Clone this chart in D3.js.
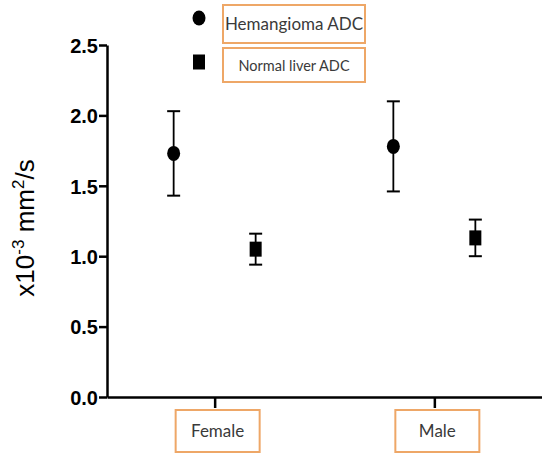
<!DOCTYPE html>
<html>
<head>
<meta charset="utf-8">
<script src="https://cdn.jsdelivr.net/npm/d3@7"></script>
<style>
  body { margin: 0; background: #fff; }
  svg { display: block; }
</style>
</head>
<body>
<svg id="chart"></svg>
<script>
// values (x10^-3 mm2/s), mean and error half-width
var groups = ['Female', 'Male'];
var seriesNames = ['Hemangioma ADC', 'Normal liver ADC'];
var hemangiomaMean = [1.73, 1.78];
var hemangiomaErr = [0.30, 0.32];
var liverMean = [1.05, 1.13];
var liverErr = [0.11, 0.13];
var yTicks = [0, 0.5, 1.0, 1.5, 2.0, 2.5];

var width = 542;
var height = 454;
var orange = '#eea767';

var svg = d3.select('#chart')
  .attr('width', width)
  .attr('height', height);

var y = d3.scaleLinear().domain([0, 2.5]).range([397, 45]);
var x = d3.scalePoint().domain(groups).range([107, 542]).padding(0.49);
var offset = 41;

// y axis
var yAxis = svg.append('g')
  .attr('transform', 'translate(107,0)')
  .call(d3.axisLeft(y).tickValues(yTicks).tickFormat(d3.format('.1f')).tickSize(8).tickSizeOuter(0));
yAxis.select('.domain').attr('stroke', '#000').attr('stroke-width', 2.5);
yAxis.selectAll('.tick line').attr('stroke', '#000').attr('stroke-width', 2.5);
yAxis.selectAll('.tick text')
  .attr('x', -9)
  .attr('dy', '0.36em')
  .style('font-family', '"Liberation Sans", Arial, sans-serif')
  .style('font-weight', 'bold')
  .style('font-size', '20px')
  .attr('fill', '#000');

// x axis
var xAxis = svg.append('g')
  .attr('transform', 'translate(0,397)')
  .call(d3.axisBottom(x).tickSize(11).tickSizeOuter(0).tickFormat(''));
xAxis.select('.domain').attr('stroke', '#000').attr('stroke-width', 2.5);
xAxis.selectAll('.tick line').attr('stroke', '#000').attr('stroke-width', 2.5);

// boxed category labels
var cat = svg.append('g').selectAll('g')
  .data(groups)
  .join('g')
  .attr('transform', function(d) { return 'translate(' + x(d) + ',0)'; });
cat.append('rect')
  .attr('x', -39).attr('y', 410).attr('width', 84).attr('height', 42)
  .attr('fill', '#fff').attr('stroke', orange).attr('stroke-width', 2);
cat.append('text')
  .attr('x', 3).attr('y', 437)
  .attr('text-anchor', 'middle')
  .style('font-family', 'Lato, sans-serif')
  .style('font-size', '17px')
  .attr('fill', '#3a3a3a')
  .text(function(d) { return d; });

// y label
var ylab = svg.append('text')
  .attr('transform', 'translate(34,228) rotate(-90)')
  .attr('text-anchor', 'middle')
  .style('font-family', '"Liberation Sans", Arial, sans-serif')
  .style('font-size', '26px')
  .attr('fill', '#000');
ylab.append('tspan').text('x10');
ylab.append('tspan').attr('dy', -10).style('font-size', '17px').text('-3');
ylab.append('tspan').attr('dy', 10).text(' mm');
ylab.append('tspan').attr('dy', -10).style('font-size', '17px').text('2');
ylab.append('tspan').attr('dy', 10).text('/s');

var series = [
  { name: seriesNames[0], mean: hemangiomaMean, err: hemangiomaErr, shift: -offset, shape: 'circle' },
  { name: seriesNames[1], mean: liverMean, err: liverErr, shift: offset, shape: 'square' }
];

function drawMarker(g, shape) {
  if (shape === 'circle') {
    g.append('ellipse').attr('rx', 6.5).attr('ry', 7.5).attr('fill', '#000');
  } else {
    g.append('rect').attr('x', -6).attr('y', -7.5).attr('width', 12).attr('height', 15).attr('fill', '#000');
  }
}

series.forEach(function(s) {
  groups.forEach(function(grp, i) {
    var cx = x(grp) + s.shift;
    var lo = y(s.mean[i] - s.err[i]);
    var hi = y(s.mean[i] + s.err[i]);
    var g = svg.append('g');
    g.append('line').attr('x1', cx).attr('x2', cx).attr('y1', lo).attr('y2', hi)
      .attr('stroke', '#000').attr('stroke-width', 1.8);
    [lo, hi].forEach(function(yy) {
      g.append('line').attr('x1', cx - 6.5).attr('x2', cx + 6.5).attr('y1', yy).attr('y2', yy)
        .attr('stroke', '#000').attr('stroke-width', 2);
    });
    var m = g.append('g').attr('transform', 'translate(' + cx + ',' + y(s.mean[i]) + ')');
    drawMarker(m, s.shape);
  });
});

// legend
var legend = svg.append('g').selectAll('g')
  .data(series)
  .join('g')
  .attr('transform', function(d, i) { return 'translate(0,' + (i * 43) + ')'; });
legend.each(function(d) {
  var m = d3.select(this).append('g').attr('transform', 'translate(199,' + (d.shape === 'circle' ? 18 : 19) + ')');
  drawMarker(m, d.shape);
});
legend.append('rect')
  .attr('x', 223).attr('y', 5)
  .attr('width', 142).attr('height', function(d, i) { return i === 0 ? 38 : 34; })
  .attr('fill', '#fff').attr('stroke', orange).attr('stroke-width', 2);
legend.append('text')
  .attr('x', 294).attr('y', function(d, i) { return i === 0 ? 30 : 28; })
  .attr('text-anchor', 'middle')
  .style('font-family', 'Lato, sans-serif')
  .style('font-size', function(d, i) { return i === 0 ? '17px' : '14.5px'; })
  .attr('fill', '#3a3a3a')
  .text(function(d) { return d.name; });
</script>
</body>
</html>
